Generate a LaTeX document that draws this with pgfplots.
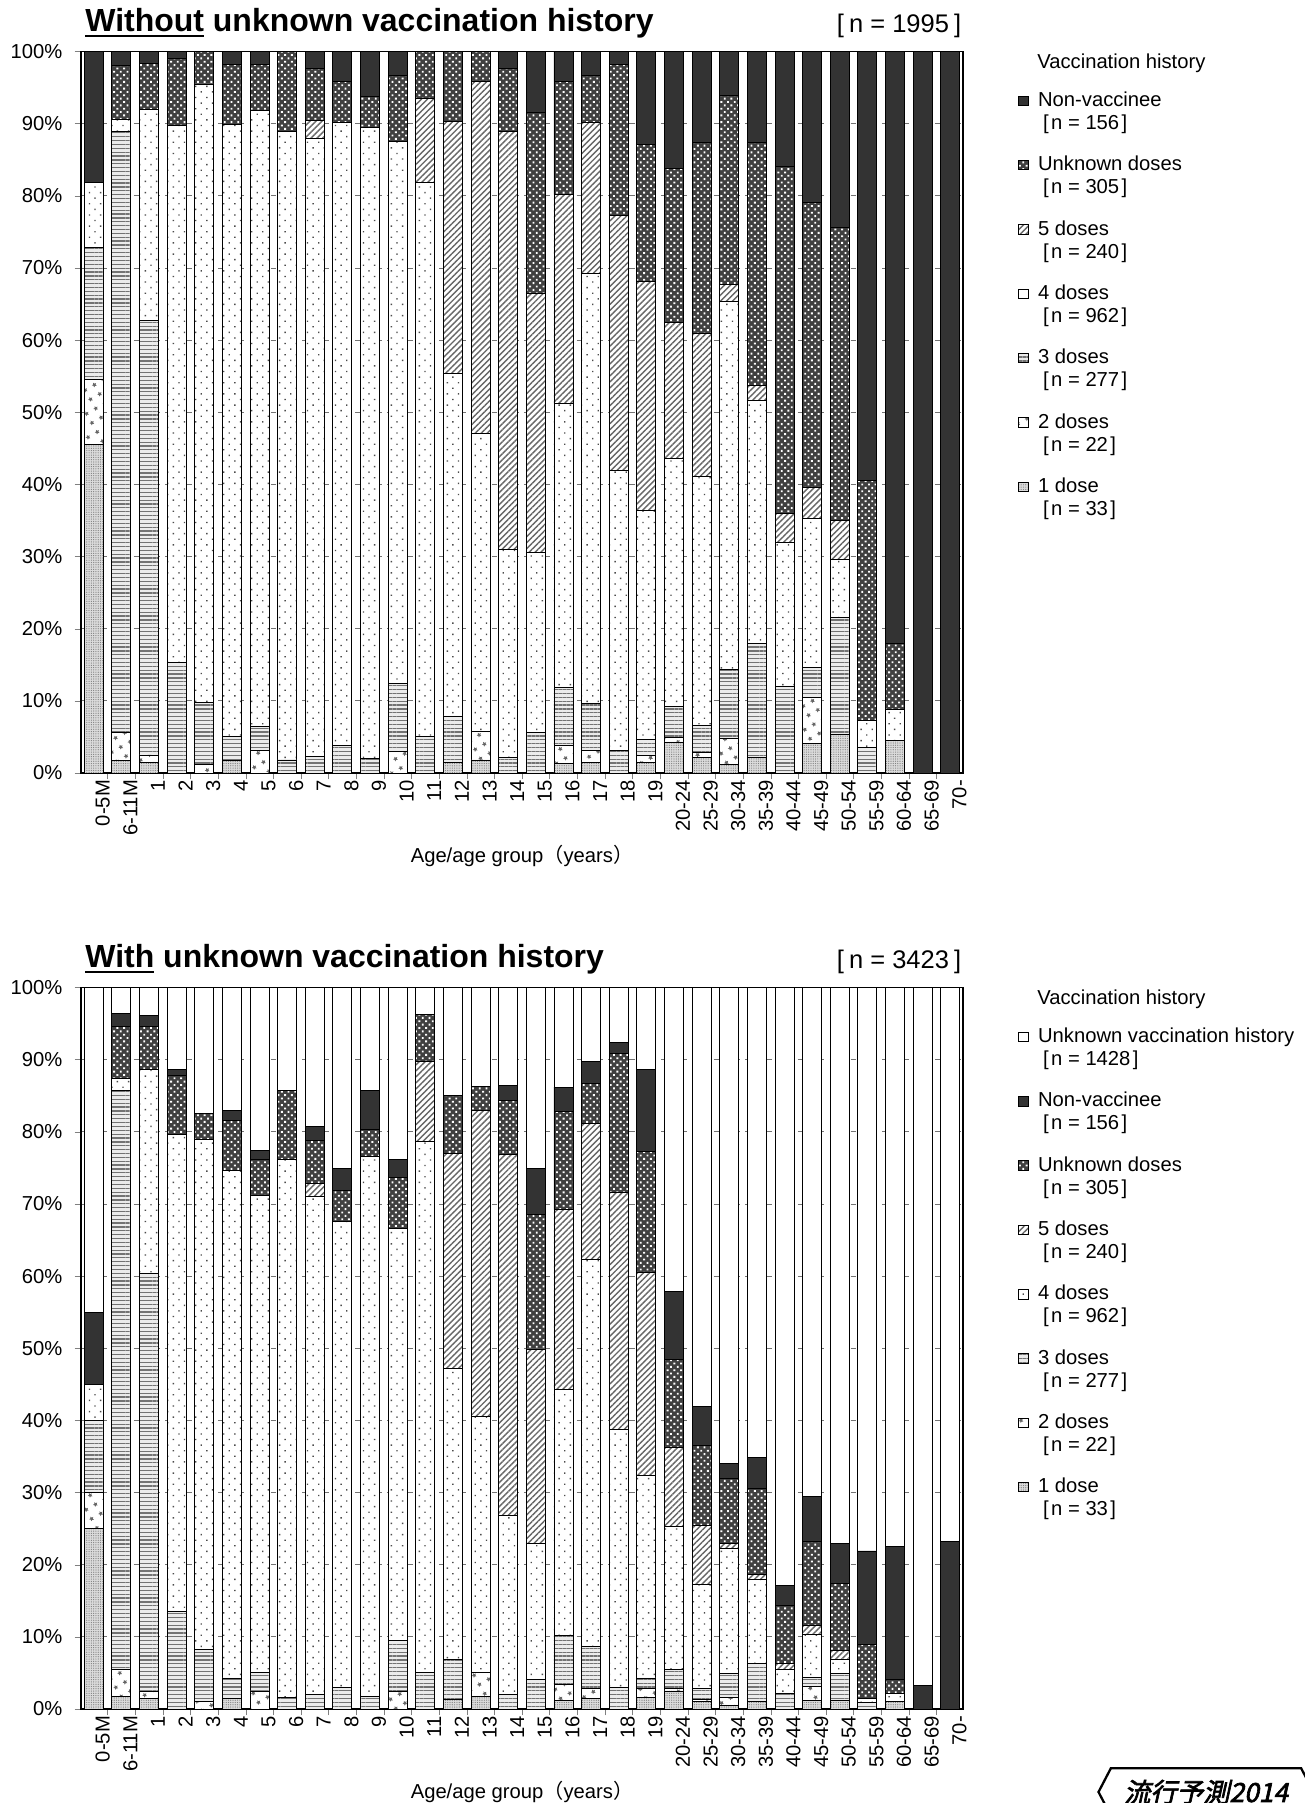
\documentclass[border=0pt]{standalone}
\usepackage{fontspec}
\setmainfont{Liberation Sans}
\newfontfamily\cjk{Noto Sans CJK JP}
\newfontfamily\cjklogo[FakeSlant=0.22,FakeBold=2.5]{Noto Sans CJK JP}
\usepackage{graphicx}
\usepackage{pgfplots}
\usepackage{pgfplotstable}
\pgfplotsset{compat=1.18}
\usetikzlibrary{patterns,patterns.meta,shapes.symbols}

\newcommand\nn[1]{[\hspace{0.12em}n = #1\hspace{0.12em}]}
\newcommand\lent[2]{\rlap{\smash{\raisebox{-13.1pt}{\hspace*{0.25em}\nn{#2}}}}#1}
\newcommand\thickul[1]{\sbox0{#1}\rlap{\rule[-3.4pt]{\wd0}{1.5pt}}\usebox0}

\tikzset{
 s1/.style={fill=black!14, postaction={pattern={Dots[radius=0.35pt,distance=1.3pt]}, pattern color=black!50}},
 s2/.style={fill=white, postaction={pattern={Stars[radius=1.4pt,points=5,distance=6pt,angle=30]}, pattern color=black!60}},
 s3/.style={fill=black!8, postaction={pattern={Lines[angle=0,distance=2.2pt,line width=0.7pt]}, pattern color=black!55}},
 s4/.style={fill=white, postaction={pattern={Dots[radius=0.55pt,distance=4.5pt,angle=45]}, pattern color=black!70}},
 s5/.style={fill=white, postaction={pattern={Lines[angle=45,distance=2.4pt,line width=0.8pt]}, pattern color=black!60}},
 s6/.style={fill=black!75, postaction={pattern={Dots[radius=0.75pt,distance=2.7pt,angle=45]}, pattern color=white}},
 s7/.style={fill=black!80},
 s8/.style={fill=white},
 legendtitle/.style={anchor=base west, inner sep=0pt},
}

\pgfplotsset{
 vacc/.style={
  scale only axis, width=17.64cm, height=14.43cm,
  ybar stacked, bar width=0.687,
  xmin=-0.46, xmax=31.46, ymin=0, ymax=100,
  enlargelimits=false, clip=false,
  axis line style={black, line width=0.6pt},
  every axis plot/.append style={draw=black, line width=0.5pt},
  ytick={0,10,...,100},
  yticklabels={0\%,10\%,20\%,30\%,40\%,50\%,60\%,70\%,80\%,90\%,100\%},
  y tick label style={xshift=-0.1cm},
  ymajorgrids, grid style={dashed, black!55, line width=0.4pt},
  xtick={-0.5,0.5,...,31.5}, xticklabels={},
  extra x ticks={0,1,...,31},
  extra x tick labels={0-5M,6-11M,1,2,3,4,5,6,7,8,9,10,11,12,13,14,15,16,17,18,19,20-24,25-29,30-34,35-39,40-44,45-49,50-54,55-59,60-64,65-69,70-},
  extra x tick style={major tick length=0pt},
  x tick label style={rotate=90, anchor=east, yshift=-0.18cm},
  tick align=outside, major tick length=0.13cm,
  tick pos=left,
  xlabel={Age/age group{\cjk （}years{\cjk ）}},
  xlabel style={at={(axis description cs:0.5,0)}, anchor=base, yshift=-1.80cm},
  legend image code/.code={\draw[##1] (0cm,0.02cm) rectangle (0.19cm,0.21cm);},
  reverse legend,
  legend cell align=left,
  legend style={draw=none, fill=none, at={(1.0624,0.946)}, anchor=north west,
     inner sep=0pt, row sep=0.90cm, column sep=0.17cm,
     cells={anchor=base west}, nodes={inner sep=0.5pt, text height=8.5pt, text depth=1.5pt},
     font=\fontsize{11.5}{13.1}\selectfont},
 }
}

\pgfplotstableread{
x d1 d2 d3 d4 d5 unk non
0 45.5 9.1 18.2 9.1 0 0 18.1
1 1.7 3.9 83.3 1.7 0 7.4 2.0
2 1.5 1.0 60.2 29.3 0 6.4 1.6
3 0 0 15.3 74.4 0 9.3 1.0
4 0 1.2 8.6 85.7 0 4.5 0
5 1.7 0 3.4 84.8 0 8.3 1.8
6 0 3.1 3.3 85.4 0 6.4 1.8
7 0 0 1.8 87.1 0 11.1 0
8 0 0 2.3 85.7 2.4 7.2 2.4
9 0 0 3.8 86.3 0 5.8 4.1
10 0 0 2.0 87.5 0 4.2 6.3
11 0 3.0 9.4 75.1 0 9.2 3.3
12 0 0 5.1 76.7 11.7 6.5 0
13 1.5 0 6.4 47.5 34.9 9.7 0
14 1.8 4.0 0 41.2 48.9 4.1 0
15 0 0 2.2 28.8 57.9 8.8 2.3
16 0 0 5.6 24.9 36.0 25.0 8.5
17 1.3 2.5 8.0 39.4 29.0 15.7 4.1
18 1.5 1.6 6.5 59.6 21.0 6.5 3.3
19 0 0 3.1 38.8 35.4 20.9 1.8
20 1.5 1.0 2.1 31.8 31.7 19.0 12.9
21 4.3 0.6 4.3 34.4 18.8 21.4 16.2
22 2.2 0.7 3.7 34.5 19.8 26.5 12.6
23 1.2 3.6 9.5 51.1 2.3 26.2 6.1
24 2.2 0 15.7 33.7 2.1 33.7 12.6
25 0 0 12.0 19.9 4.1 48.0 16.0
26 4.1 6.4 4.1 20.7 4.3 39.5 20.9
27 5.3 0 16.3 8.0 5.4 40.6 24.4
28 0 0 3.6 3.7 0 33.3 59.4
29 4.5 0 0 4.3 0 9.2 82.0
30 0 0 0 0 0 0 100
31 0 0 0 0 0 0 100
}\topdata

\pgfplotstableread{
x d1 d2 d3 d4 d5 unk non uvh
0 25.0 5.0 10.0 5.0 0 0 10.0 45.0
1 1.8 3.7 80.2 1.7 0 7.2 1.8 3.6
2 1.5 1.0 57.8 28.3 0 6.0 1.5 3.9
3 0 0 13.5 66.1 0 8.2 0.8 11.4
4 0 1.0 7.2 70.7 0 3.7 0 17.4
5 1.5 0 2.8 70.4 0 6.9 1.4 17.0
6 0 2.5 2.6 66.1 0 4.9 1.3 22.6
7 0 0 1.6 74.5 0 9.6 0 14.3
8 0 0 2.0 69.1 1.8 5.9 1.9 19.3
9 0 0 3.0 64.6 0 4.3 3.0 25.1
10 0 0 1.8 74.8 0 3.7 5.4 14.3
11 0 2.4 7.1 57.1 0 7.1 2.4 23.9
12 0 0 5.1 73.5 11.2 6.4 0 3.8
13 1.3 0 5.5 40.4 29.8 8.0 0 15.0
14 1.8 3.3 0 35.5 42.3 3.4 0 13.7
15 0 0 2.0 24.8 50.0 7.6 2.0 13.6
16 0 0 4.1 18.8 27.0 18.7 6.3 25.1
17 1.2 2.2 6.8 34.1 24.9 13.6 3.4 13.8
18 1.5 1.3 5.9 53.6 18.8 5.6 3.0 10.3
19 0 0 3.0 35.7 32.9 19.3 1.5 7.6
20 1.6 1.2 1.5 28.1 28.1 16.8 11.3 11.4
21 2.5 0.3 2.7 19.8 10.9 12.3 9.4 42.1
22 1.0 0.3 1.5 14.4 8.3 11.0 5.4 58.1
23 0.5 1.1 3.3 17.3 0.8 8.9 2.1 66.0
24 1.0 0 5.3 11.7 0.6 11.9 4.4 65.1
25 0 0 2.1 3.4 0.8 8.0 2.8 82.9
26 1.2 1.9 1.3 6.0 1.2 11.6 6.2 70.6
27 1.2 0 3.7 2.0 1.2 9.3 5.5 77.1
28 0 0 0.9 0.6 0 7.4 13.0 78.1
29 1.1 0 0 1.0 0 2.0 18.4 77.5
30 0 0 0 0 0 0 3.2 96.8
31 0 0 0 0 0 0 23.2 76.8
}\botdata

\begin{document}
\fontsize{11.5}{13.1}\selectfont
\begin{tikzpicture}
\useasboundingbox (0,0) rectangle (26.08cm,36.06cm);

% ---------- top chart ----------
\begin{axis}[vacc, at={(1.62cm,20.60cm)}, anchor=south west]
\addplot[s1] table[x=x,y=d1]{\topdata}; \addlegendentry{\lent{1 dose}{33}}
\addplot[s2] table[x=x,y=d2]{\topdata}; \addlegendentry{\lent{2 doses}{22}}
\addplot[s3] table[x=x,y=d3]{\topdata}; \addlegendentry{\lent{3 doses}{277}}
\addplot[s4] table[x=x,y=d4]{\topdata}; \addlegendentry{\lent{4 doses}{962}}
\addplot[s5] table[x=x,y=d5]{\topdata}; \addlegendentry{\lent{5 doses}{240}}
\addplot[s6] table[x=x,y=unk]{\topdata}; \addlegendentry{\lent{Unknown doses}{305}}
\addplot[s7] table[x=x,y=non]{\topdata}; \addlegendentry{\lent{Non-vaccinee}{156}}
\node[legendtitle] at (rel axis cs:1.0839,1) [yshift=-0.34cm] {Vaccination history};
\node[anchor=base west, font=\fontsize{18.2}{20}\selectfont\bfseries, inner sep=0pt]
  at (rel axis cs:0,1) [xshift=0.08cm, yshift=0.40cm] {\thickul{Without} unknown vaccination history};
\node[anchor=base east, font=\fontsize{14.5}{16}\selectfont, inner sep=0pt]
  at (rel axis cs:1,1) [xshift=-0.03cm, yshift=0.38cm] {[\hspace{0.2em}n = 1995\hspace{0.2em}]};
\end{axis}

% ---------- bottom chart ----------
\begin{axis}[vacc, at={(1.62cm,1.88cm)}, anchor=south west]
\addplot[s1] table[x=x,y=d1]{\botdata}; \addlegendentry{\lent{1 dose}{33}}
\addplot[s2] table[x=x,y=d2]{\botdata}; \addlegendentry{\lent{2 doses}{22}}
\addplot[s3] table[x=x,y=d3]{\botdata}; \addlegendentry{\lent{3 doses}{277}}
\addplot[s4] table[x=x,y=d4]{\botdata}; \addlegendentry{\lent{4 doses}{962}}
\addplot[s5] table[x=x,y=d5]{\botdata}; \addlegendentry{\lent{5 doses}{240}}
\addplot[s6] table[x=x,y=unk]{\botdata}; \addlegendentry{\lent{Unknown doses}{305}}
\addplot[s7] table[x=x,y=non]{\botdata}; \addlegendentry{\lent{Non-vaccinee}{156}}
\addplot[s8] table[x=x,y=uvh]{\botdata}; \addlegendentry{\lent{Unknown vaccination history}{1428}}
\node[legendtitle] at (rel axis cs:1.0839,1) [yshift=-0.34cm] {Vaccination history};
\node[anchor=base west, font=\fontsize{18.2}{20}\selectfont\bfseries, inner sep=0pt]
  at (rel axis cs:0,1) [xshift=0.08cm, yshift=0.40cm] {\thickul{With} unknown vaccination history};
\node[anchor=base east, font=\fontsize{14.5}{16}\selectfont, inner sep=0pt]
  at (rel axis cs:1,1) [xshift=-0.03cm, yshift=0.38cm] {[\hspace{0.2em}n = 3423\hspace{0.2em}]};
\end{axis}

% ---------- logo ----------
\node[draw, line width=1.3pt, signal, signal to=west and east, signal pointer angle=125,
      minimum width=4.3cm, minimum height=0.95cm, inner sep=1pt,
      font=\fontsize{15}{17}\selectfont] at (24.12cm,0.22cm) {\cjklogo 流行予測2014};
\end{tikzpicture}
\end{document}
